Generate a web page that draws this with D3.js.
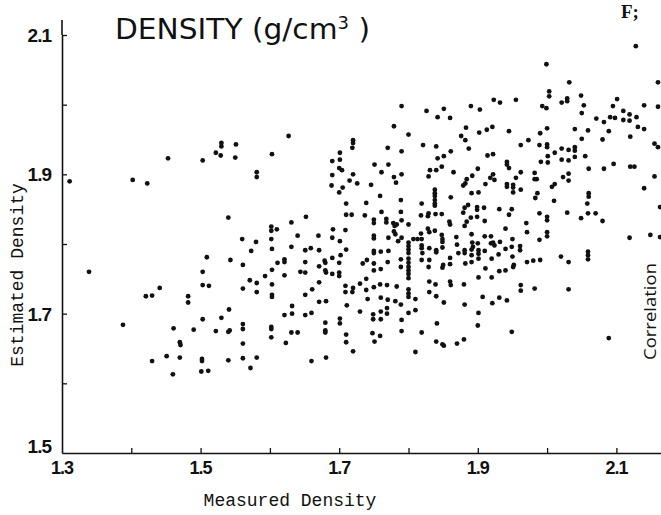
<!DOCTYPE html>
<html>
<head>
<meta charset="utf-8">
<script src="https://cdn.jsdelivr.net/npm/d3@7"></script>
<style>
  body { margin: 0; background: #fff; }
  svg { display: block; }
</style>
</head>
<body>
<div id="chart"></div>
<script>
// measured vs estimated density
const measured = [
  1.311,1.402,1.423,1.453,1.503,1.522,1.530,1.530,1.529,1.551,1.550,1.581,1.581,1.540,1.560,1.580,1.573,1.509,1.543,1.561,
  1.339,1.503,1.441,1.421,1.430,1.503,1.512,1.482,1.482,1.561,1.571,1.581,1.581,1.541,1.503,1.530,1.388,1.461,1.490,1.522,
  1.540,1.542,1.561,1.561,1.470,1.471,1.561,1.430,1.451,1.470,1.502,1.502,1.540,1.561,1.581,1.572,1.460,1.501,1.511,
  1.790,1.779,1.627,1.603,1.720,1.720,1.719,1.701,1.690,1.701,1.700,1.704,1.690,1.720,1.715,1.726,1.689,1.705,1.700,1.770,
  1.790,1.751,1.771,1.761,1.790,1.779,1.782,1.746,1.759,1.789,1.710,1.739,1.710,1.718,1.737,1.761,1.789,1.652,1.631,1.602,
  1.602,1.610,1.691,1.709,1.750,1.750,1.768,1.768,1.778,1.780,1.783,1.790,1.779,1.781,1.640,1.670,1.690,1.602,1.750,1.750,
  1.771,1.790,
  1.701,1.785,1.603,1.631,1.651,1.659,1.671,1.710,1.690,1.702,1.750,1.750,1.760,1.771,1.621,1.621,1.611,1.651,1.679,1.680,
  1.700,1.740,1.734,1.750,1.770,1.789,1.789,1.671,1.603,1.593,1.621,1.644,1.651,1.680,1.681,1.690,1.700,1.700,1.750,1.760,
  1.603,1.671,1.661,1.651,1.603,1.603,1.709,1.709,1.720,1.719,1.730,1.739,1.739,1.750,1.759,1.769,1.783,1.741,1.760,1.770,
  1.781,1.789,1.671,1.681,1.711,1.632,1.621,1.632,1.651,1.660,1.730,1.749,1.760,1.769,1.769,1.749,1.760,1.790,1.701,1.701,
  1.680,1.602,1.602,1.680,1.680,1.602,1.631,1.640,1.623,1.710,1.710,1.748,1.759,1.751,1.790,1.720,1.660,1.681,
  1.923,1.932,1.955,1.826,1.851,1.890,1.903,1.842,1.860,1.800,1.883,1.902,1.913,1.921,1.945,1.876,1.882,1.973,1.821,1.840,
  1.861,1.887,1.914,1.922,1.962,1.842,1.851,1.942,1.942,1.945,1.831,1.829,1.840,1.848,1.865,1.900,1.884,1.892,1.879,1.882,
  1.918,1.922,1.924,1.955,1.962,1.911,1.942,1.942,1.951,1.951,1.962,1.951,1.838,1.838,1.838,1.891,1.901,1.819,1.838,1.838,
  1.838,1.861,1.881,1.886,1.899,1.909,1.931,1.949,
  1.899,1.818,1.828,1.829,1.839,1.848,1.879,1.890,1.899,1.910,1.884,1.945,1.800,1.859,1.860,1.881,1.828,1.830,1.838,1.818,
  1.940,1.970,1.971,1.807,1.813,1.819,1.800,1.800,1.800,1.800,1.800,1.800,1.800,1.800,1.800,1.800,1.800,1.800,1.800,1.819,
  1.819,1.820,1.819,1.830,1.840,1.840,1.848,1.849,1.849,1.849,1.830,1.829,1.850,1.849,1.860,1.860,1.869,1.870,1.872,1.881,
  1.881,1.891,1.892,1.893,1.891,1.891,1.891,1.882,1.900,1.901,1.901,1.901,1.910,1.919,1.910,1.919,1.922,1.924,1.920,1.930,
  1.932,1.940,1.949,1.950,1.950,1.951,1.952,1.961,1.961,1.911,1.920,1.901,1.931,1.940,1.962,1.962,1.830,1.839,1.860,1.861,
  1.880,1.830,1.840,1.810,1.810,1.800,1.851,1.881,1.907,1.921,1.931,1.942,1.901,1.841,1.900,1.819,1.949,1.840,1.849,1.851,
  1.870,1.880,1.810,
  2.128,1.999,2.032,2.160,2.003,2.003,2.049,1.993,1.999,2.021,2.029,2.029,2.053,2.050,2.101,2.095,2.140,2.160,2.071,2.082,
  2.091,2.098,2.110,2.119,2.129,2.110,2.119,2.131,2.140,2.089,2.120,1.990,2.000,2.040,2.059,2.050,2.080,1.989,2.000,2.000,
  2.011,2.021,2.031,2.040,2.040,2.001,2.040,2.055,2.021,2.031,1.991,2.001,2.155,2.160,2.060,2.082,2.096,2.120,2.126,1.982,
  1.982,1.985,2.023,2.031,2.031,2.155,2.007,2.011,2.140,1.986,1.983,2.010,2.060,2.060,2.058,1.989,2.000,2.000,2.029,2.049,
  2.059,2.070,2.080,2.000,2.000,1.989,2.119,2.149,2.163,1.971,1.980,1.990,2.020,2.031,2.059,2.059,2.059,1.982,2.031,2.089,
  2.163
];
const estimated = [
  1.890,1.892,1.887,1.923,1.920,1.931,1.945,1.940,1.927,1.943,1.924,1.903,1.896,1.838,1.807,1.803,1.790,1.781,1.777,1.770,
  1.760,1.760,1.737,1.725,1.726,1.741,1.740,1.725,1.716,1.736,1.748,1.744,1.731,1.706,1.692,1.694,1.684,1.679,1.677,1.675,
  1.674,1.676,1.685,1.678,1.659,1.655,1.657,1.632,1.639,1.637,1.635,1.632,1.633,1.636,1.637,1.622,1.613,1.617,1.618,
  1.998,1.969,1.955,1.929,1.949,1.945,1.938,1.931,1.919,1.921,1.909,1.906,1.899,1.900,1.891,1.887,1.884,1.881,1.874,1.938,
  1.933,1.914,1.914,1.903,1.900,1.896,1.888,1.885,1.869,1.863,1.858,1.859,1.842,1.842,1.841,1.846,1.846,1.839,1.831,1.825,
  1.819,1.821,1.821,1.820,1.835,1.830,1.836,1.831,1.830,1.826,1.828,1.834,1.818,1.814,1.812,1.812,1.809,1.807,1.812,1.808,
  1.809,1.809,
  1.804,1.804,1.793,1.796,1.791,1.794,1.791,1.792,1.780,1.784,1.790,1.787,1.789,1.790,1.778,1.774,1.773,1.774,1.776,1.773,
  1.773,1.777,1.772,1.772,1.774,1.778,1.767,1.768,1.763,1.754,1.755,1.760,1.759,1.762,1.759,1.757,1.759,1.754,1.762,1.764,
  1.742,1.745,1.735,1.727,1.727,1.724,1.740,1.731,1.737,1.731,1.743,1.750,1.734,1.738,1.742,1.741,1.739,1.721,1.723,1.720,
  1.718,1.713,1.717,1.718,1.712,1.711,1.698,1.700,1.698,1.701,1.703,1.699,1.703,1.708,1.700,1.692,1.692,1.691,1.693,1.686,
  1.687,1.681,1.678,1.676,1.673,1.666,1.673,1.673,1.658,1.670,1.659,1.672,1.668,1.660,1.675,1.646,1.632,1.637,
  2.007,2.003,2.007,1.991,1.994,1.998,1.993,1.982,1.981,1.957,1.967,1.960,1.964,1.968,1.962,1.955,1.949,1.949,1.942,1.940,
  1.933,1.937,1.927,1.929,1.942,1.923,1.926,1.918,1.914,1.909,1.906,1.897,1.906,1.911,1.903,1.908,1.893,1.898,1.884,1.887,
  1.895,1.900,1.892,1.895,1.903,1.886,1.886,1.882,1.885,1.881,1.878,1.874,1.878,1.873,1.869,1.873,1.874,1.858,1.863,1.858,
  1.855,1.867,1.852,1.856,1.853,1.852,1.850,1.850,
  1.849,1.841,1.840,1.844,1.843,1.843,1.845,1.838,1.839,1.833,1.832,1.842,1.828,1.832,1.828,1.826,1.822,1.817,1.819,1.815,
  1.822,1.830,1.817,1.807,1.807,1.807,1.802,1.797,1.792,1.787,1.779,1.773,1.767,1.762,1.757,1.751,1.735,1.729,1.724,1.798,
  1.794,1.787,1.777,1.794,1.791,1.788,1.813,1.807,1.803,1.795,1.777,1.767,1.770,1.766,1.780,1.771,1.810,1.799,1.787,1.791,
  1.787,1.814,1.802,1.796,1.792,1.784,1.774,1.772,1.801,1.791,1.786,1.779,1.811,1.811,1.790,1.801,1.802,1.798,1.779,1.785,
  1.803,1.793,1.796,1.807,1.782,1.767,1.770,1.797,1.791,1.765,1.752,1.752,1.761,1.762,1.741,1.733,1.746,1.742,1.746,1.741,
  1.742,1.731,1.725,1.721,1.705,1.701,1.716,1.713,1.724,1.715,1.723,1.719,1.701,1.686,1.683,1.673,1.674,1.660,1.656,1.654,
  1.657,1.663,1.645,
  2.084,2.058,2.032,2.032,2.019,2.012,2.013,1.998,1.995,2.003,2.009,2.005,1.999,1.988,2.008,1.998,1.999,1.997,1.980,1.975,
  1.982,1.981,1.991,1.986,1.982,1.978,1.977,1.968,1.965,1.962,1.954,1.959,1.966,1.965,1.963,1.951,1.950,1.942,1.943,1.939,
  1.931,1.937,1.935,1.939,1.934,1.926,1.925,1.926,1.921,1.920,1.918,1.917,1.944,1.939,1.908,1.908,1.915,1.911,1.911,1.902,
  1.893,1.893,1.896,1.901,1.891,1.897,1.882,1.886,1.880,1.873,1.866,1.862,1.873,1.868,1.858,1.844,1.839,1.834,1.845,1.837,
  1.844,1.844,1.833,1.817,1.811,1.806,1.809,1.813,1.810,1.774,1.776,1.777,1.782,1.774,1.789,1.784,1.778,1.736,1.735,1.665,
  1.853
];

const xTicks = [1.4, 1.5, 1.6, 1.7, 1.8, 1.9, 2.0, 2.1];
const xTickLabels = ["1.3", "1.5", "1.7", "1.9", "2.1"];
const yTicks = [1.5, 1.6, 1.7, 1.8, 1.9, 2.0, 2.1];
const yTickLabels = ["1.5", "1.7", "1.9", "2.1"];

const width = 661, height = 515;
const margin = {top: 35, right: 0, bottom: 62, left: 62};

const svg = d3.select("#chart").append("svg")
    .attr("width", width)
    .attr("height", height)
    .style("background", "#fff");

// 0.1 of density is ~69 px on both axes
const x = d3.scaleLinear()
    .domain([1.3, 1.3 + (width - margin.left) / 693])
    .range([margin.left, width]);
const y = d3.scaleLinear()
    .domain([1.5, 2.1])
    .range([height - margin.bottom, margin.top]);

const tickFont = "'Liberation Sans Narrow', 'Liberation Sans', Arial, sans-serif";

// x axis, ticks pointing up into the plot
const xAxis = d3.axisBottom(x)
    .tickValues(xTicks)
    .tickSizeInner(-5)
    .tickSizeOuter(0)
    .tickFormat(() => "");

svg.append("g")
    .attr("transform", "translate(0," + y(1.5) + ")")
    .call(xAxis)
    .call(g => g.select(".domain").attr("stroke", "#111").attr("stroke-width", 1.6))
    .call(g => g.selectAll(".tick line").attr("stroke", "#111").attr("stroke-width", 1.3));

// x tick labels (1.3 sits under the corner)
svg.append("g").selectAll("text")
    .data(xTickLabels)
    .enter()
    .append("text")
    .attr("x", d => x(+d))
    .attr("y", y(1.5) + 21)
    .attr("text-anchor", "middle")
    .text(d => d)
    .style("font-family", tickFont)
    .style("font-size", "18px")
    .style("font-weight", "bold")
    .style("letter-spacing", "-1px")
    .style("fill", "#111");

// y axis, ticks pointing right
const yAxis = d3.axisLeft(y)
    .tickValues(yTicks.slice(1))
    .tickSizeInner(-5)
    .tickSizeOuter(0)
    .tickFormat(() => "");

svg.append("g")
    .attr("transform", "translate(" + margin.left + ",0)")
    .call(yAxis)
    .call(g => g.select(".domain").attr("stroke", "#111").attr("stroke-width", 1.6))
    .call(g => g.selectAll(".tick line").attr("stroke", "#111").attr("stroke-width", 1.3));

// axis line runs a little above the top tick
svg.append("line")
    .attr("x1", margin.left).attr("x2", margin.left)
    .attr("y1", 20).attr("y2", y(2.1))
    .attr("stroke", "#111")
    .attr("stroke-width", 1.6);

svg.append("g").selectAll("text")
    .data(yTickLabels)
    .enter()
    .append("text")
    .attr("x", margin.left - 11)
    .attr("y", d => +d === 1.5 ? y(+d) : y(+d) + 7)
    .attr("text-anchor", "end")
    .text(d => d)
    .style("font-family", tickFont)
    .style("font-size", "19px")
    .style("font-weight", "bold")
    .style("letter-spacing", "-1px")
    .style("fill", "#111");

// the points
svg.append("g").selectAll("circle")
    .data(measured.map((m, i) => [m, estimated[i]]))
    .enter()
    .append("circle")
    .attr("cx", d => x(d[0]))
    .attr("cy", d => y(d[1]))
    .attr("r", 2.4)
    .style("fill", "#111");

// title
const title = svg.append("text")
    .attr("x", 115)
    .attr("y", 39)
    .attr("textLength", 255)
    .attr("lengthAdjust", "spacingAndGlyphs")
    .style("font-family", "'DejaVu Sans', sans-serif")
    .style("font-size", "28px")
    .style("fill", "#111");
title.append("tspan").text("DENSITY (g/cm");
title.append("tspan").attr("dy", -10).style("font-size", "17px").text("3");
title.append("tspan").attr("dy", 10).text(" )");

svg.append("text")
    .attr("x", 621)
    .attr("y", 18)
    .text("F;")
    .style("font-family", "'Liberation Serif', serif")
    .style("font-size", "19px")
    .style("font-weight", "bold")
    .style("fill", "#111");

// axis titles
svg.append("text")
    .attr("x", 290)
    .attr("y", 506)
    .attr("text-anchor", "middle")
    .text("Measured Density")
    .style("font-family", "'Liberation Mono', 'DejaVu Sans Mono', monospace")
    .style("font-size", "18px")
    .style("fill", "#111");

svg.append("text")
    .attr("transform", "translate(23,275) rotate(-90)")
    .attr("text-anchor", "middle")
    .text("Estimated Density")
    .style("font-family", "'Liberation Mono', 'DejaVu Sans Mono', monospace")
    .style("font-size", "18px")
    .style("fill", "#111");

// side note at the right edge
svg.append("text")
    .attr("transform", "translate(656,360) rotate(-90)")
    .attr("textLength", 97)
    .attr("lengthAdjust", "spacingAndGlyphs")
    .text("Correlation")
    .style("font-family", "'Open Sans', 'DejaVu Sans', sans-serif")
    .style("font-size", "16px")
    .style("fill", "#111");
</script>
</body>
</html>
